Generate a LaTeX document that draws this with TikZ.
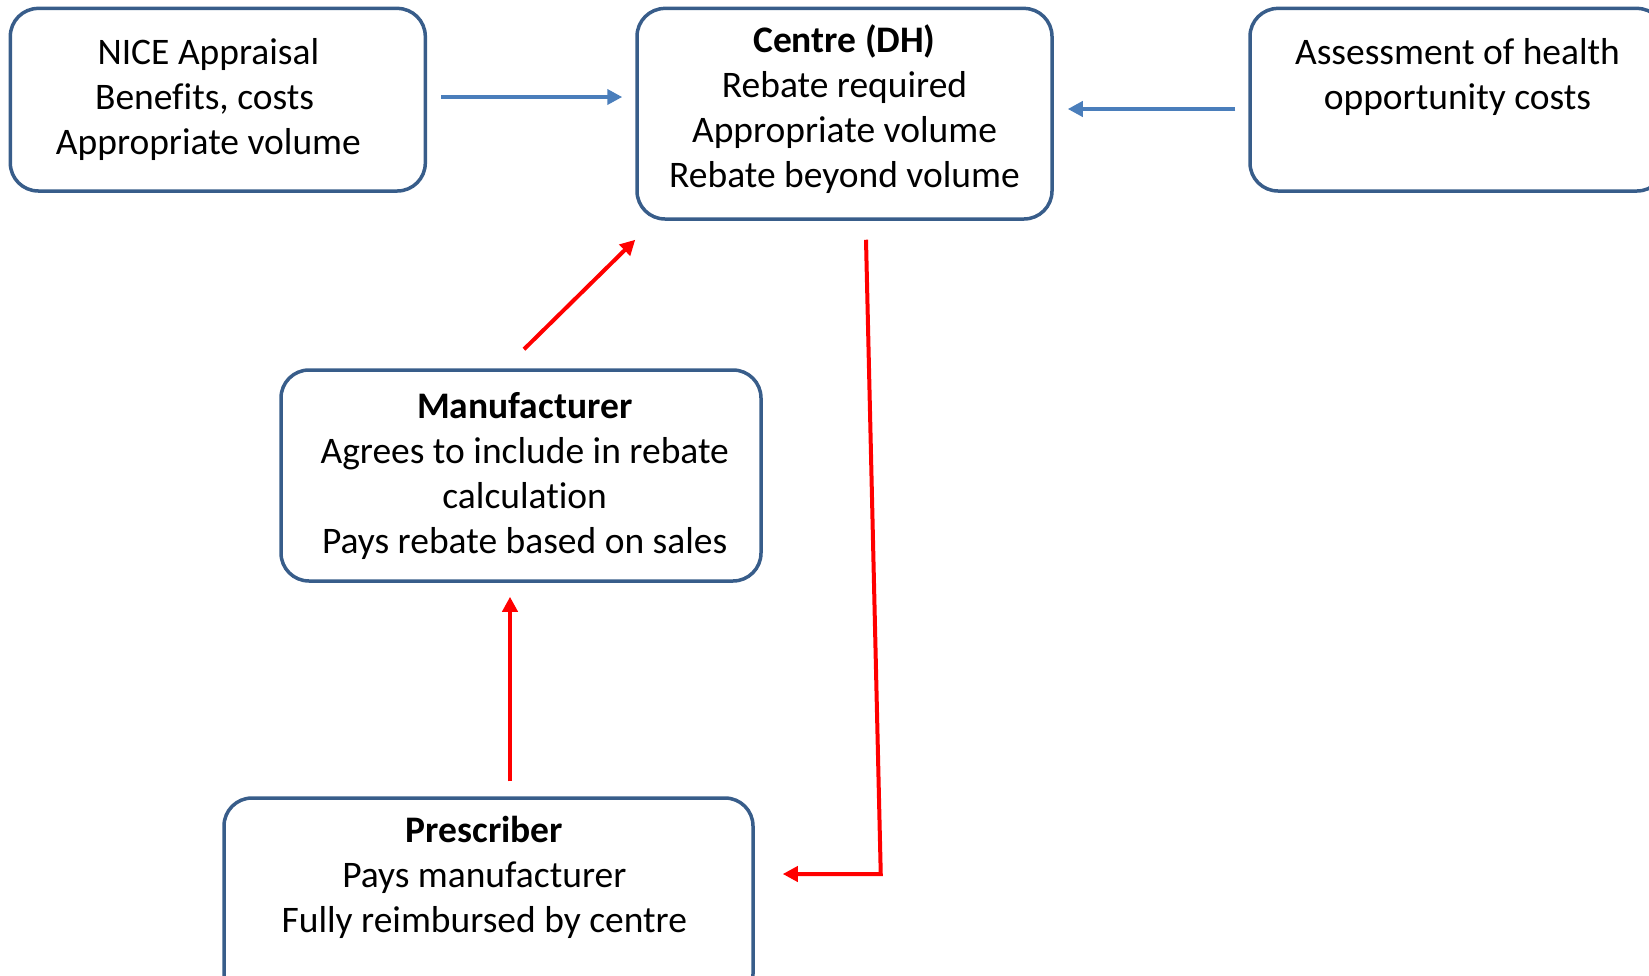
\documentclass[tikz,border=0pt]{standalone}
\usepackage{fontspec}
\setmainfont{Carlito}[Ligatures=NoCommon]
\usetikzlibrary{arrows.meta}
\definecolor{boxblue}{RGB}{56,93,138}
\definecolor{arrowblue}{RGB}{74,126,187}
\newcommand{\gap}[1]{\hbox to #1{}}
\tikzstyle{card} = [draw=boxblue, line width=1.75pt, rounded corners=14pt, align=center, inner sep=0pt, font=\fontsize{18.75}{22.5}\selectfont]
\tikzstyle{feed} = [-{Triangle[length=7.5pt,width=7.5pt]}, draw=arrowblue, line width=2pt]
\tikzstyle{flow} = [-{Triangle[length=7.5pt,width=7.5pt]}, draw=red, line width=2pt]

\begin{document}
\begin{tikzpicture}[x=0.5pt,y=-0.5pt]
  \useasboundingbox (0,0) rectangle (1649,975);

  \node[card, minimum width=207.5pt, minimum height=91.3pt] (nice) at (217.8,99.7) {NICE Appraisal\gap{9.4pt}\\Benefits, costs\gap{13.2pt}\\Appropriate volume\gap{9.4pt}};
  \node[card, minimum width=207.5pt, minimum height=105.3pt] (centre) at (844.5,113.7) {\textbf{Centre (DH)}\\Rebate required\\Appropriate volume\\Rebate beyond volume\rule[-7.8pt]{0pt}{1pt}};
  \node[card, minimum width=207.5pt, minimum height=91.3pt] (assess) at (1457.5,99.7) {Assessment of health\\opportunity costs\\\vphantom{p}};
  \node[card, minimum width=240pt, minimum height=105.5pt] (manuf) at (521,475.5) {\gap{3.7pt}\textbf{Manufacturer}\\\gap{3.7pt}Agrees to include in rebate\\\gap{3.7pt}calculation\\\gap{3.7pt}Pays rebate based on sales};
  \node[card, minimum width=264.5pt, minimum height=102pt] (presc) at (488.5,900) {\textbf{Prescriber}\gap{4.2pt}\\Pays manufacturer\gap{4.2pt}\\Fully reimbursed by centre\gap{4.2pt}\\\vphantom{p}};

  % blue inputs to the centre
  \draw[feed, shorten <=7pt, shorten >=6.5pt] ([yshift=1.35pt]nice.east) -- ([yshift=1.35pt]nice.east -| centre.west);
  \draw[feed, shorten <=6.5pt, shorten >=7pt] ([yshift=-4.65pt]assess.west) -- ([yshift=-4.65pt]assess.west -| centre.east);

  % red money flows
  \draw[flow] ([shift={(1.5pt,9.5pt)}]manuf.north) -- ([yshift=-9.5pt]centre.south west);
  \draw[flow, shorten <=7.5pt, shorten >=7pt] ([xshift=10.75pt]presc.north) -- ([xshift=10.75pt]presc.north |- manuf.south);
  \draw[flow] ([shift={(10.75pt,-9.5pt)}]centre.south) -- ([shift={(63pt,13pt)}]presc.east) -- ([shift={(14pt,13pt)}]presc.east);
\end{tikzpicture}
\end{document}
